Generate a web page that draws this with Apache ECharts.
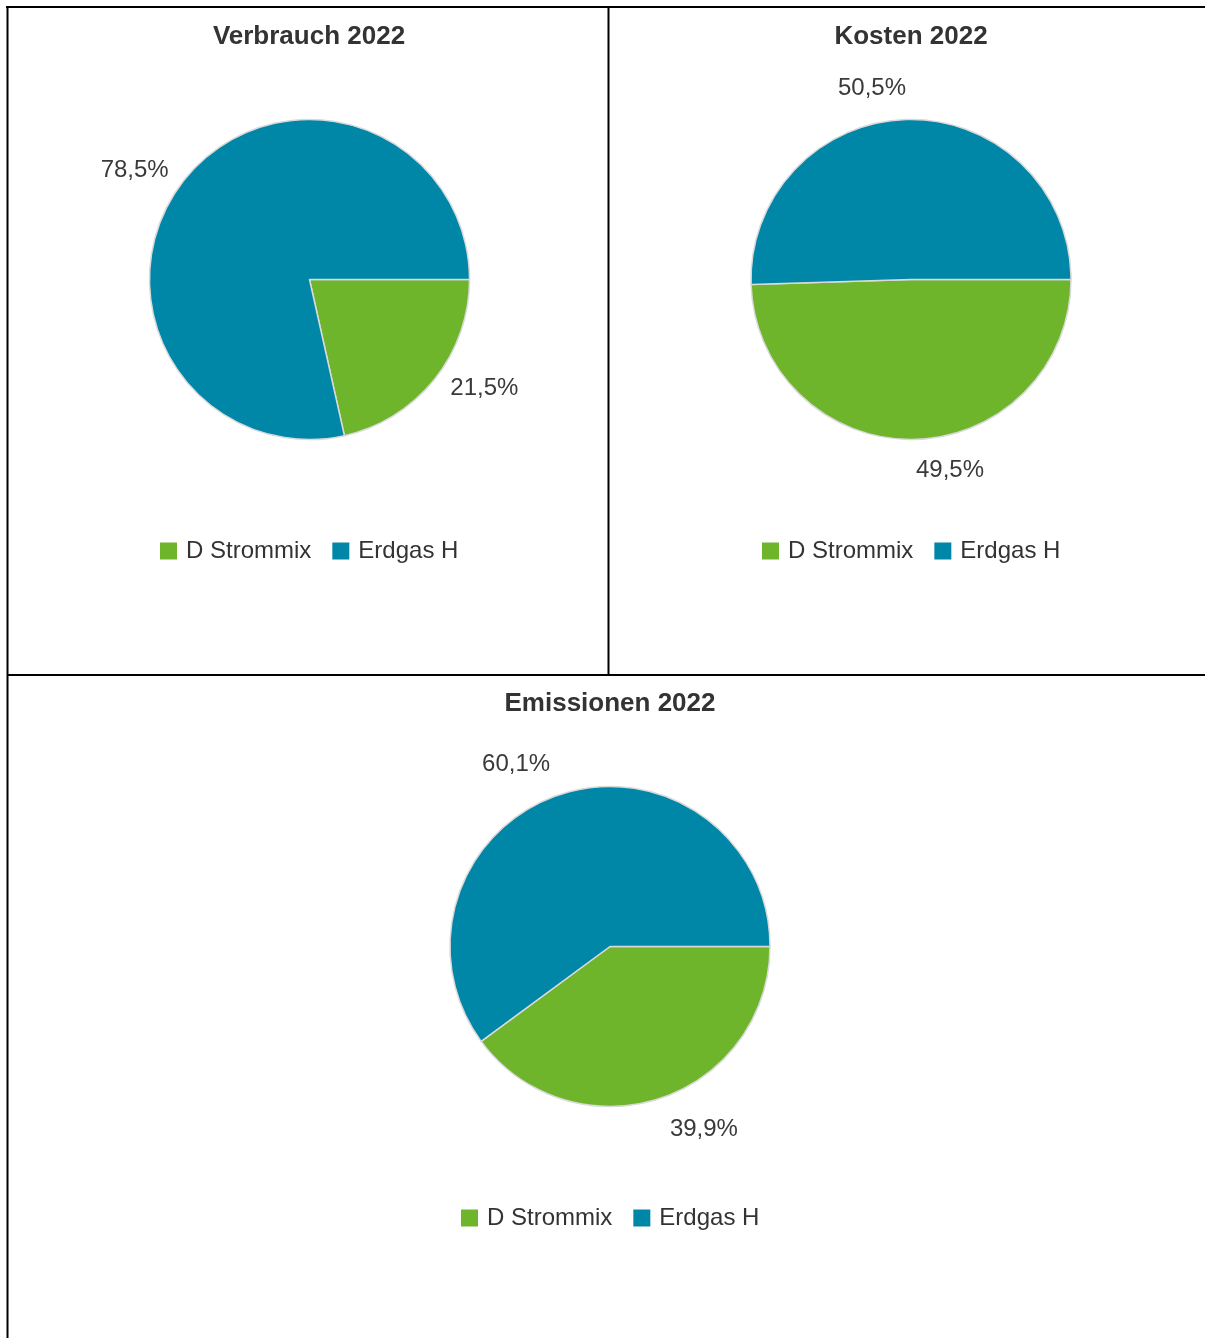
<!DOCTYPE html>
<html>
<head>
<meta charset="utf-8">
<title>Verbrauch, Kosten, Emissionen 2022</title>
<script src="https://cdn.jsdelivr.net/npm/echarts@6/dist/echarts.min.js"></script>
<style>
  html, body { margin: 0; padding: 0; background: #fff; }
  #chart { width: 1205px; height: 1338px; }
</style>
</head>
<body>
<div id="chart"></div>
<script>
// data (percent)
var categories = ['D Strommix', 'Erdgas H']
var chartTitles = ['Verbrauch 2022', 'Kosten 2022', 'Emissionen 2022']
var verbrauchData = [21.5, 78.5]
var kostenData = [49.5, 50.5]
var emissionenData = [39.9, 60.1]

var colors = ['#6fb52c', '#0086a7']
var fontFamily = '"Liberation Sans", Arial, sans-serif'

// layout of the three panels: pie center, label distance, legend start
var panels = [
  { data: verbrauchData, center: [309.5, 279.5], titleX: 304, titleY: 19, legendX: 155, legendY: 534, len: 14, len2: 5 },
  { data: kostenData, center: [911, 279.5], titleX: 906, titleY: 19, legendX: 757, legendY: 534, len: 31, len2: 2 },
  { data: emissionenData, center: [610, 946.5], titleX: 605, titleY: 686, legendX: 456, legendY: 1201, len: 32, len2: 0 }
]

var chart = echarts.init(document.getElementById('chart'))

var titles = []
var legends = []
var series = []
for (var i = 0; i < panels.length; i++) {
  var p = panels[i]
  titles.push({
    text: chartTitles[i],
    left: p.titleX,
    top: p.titleY,
    textAlign: 'center',
    textStyle: { fontFamily: fontFamily, fontSize: 26, fontWeight: 'bold', color: '#333' }
  })
  legends.push({
    data: categories,
    left: p.legendX,
    top: p.legendY,
    orient: 'horizontal',
    icon: 'rect',
    itemWidth: 17,
    itemHeight: 17,
    itemGap: 21,
    selectedMode: false,
    itemStyle: { borderWidth: 0 },
    textStyle: { fontFamily: fontFamily, fontSize: 24, color: '#333', padding: [0, 0, 0, 4] }
  })
  series.push({
    name: chartTitles[i],
    type: 'pie',
    center: p.center,
    radius: 160,
    startAngle: 0,
    clockwise: true,
    avoidLabelOverlap: false,
    animation: false,
    silent: true,
    itemStyle: { borderColor: '#d9d9d9', borderWidth: 1.5 },
    label: {
      show: true,
      position: 'outside',
      distanceToLabelLine: 0,
      fontFamily: fontFamily,
      fontSize: 24,
      color: '#3a3a3a',
      formatter: function (params) {
        return params.value.toFixed(1).replace('.', ',') + '%'
      }
    },
    labelLine: { show: false, length: p.len, length2: p.len2 },
    data: categories.map(function (name, k) {
      return { name: name, value: p.data[k], itemStyle: { color: colors[k] } }
    })
  })
}

chart.setOption({
  color: colors,
  title: titles,
  legend: legends,
  series: series,
  graphic: [
    { type: 'line', shape: { x1: 6, y1: 7, x2: 1205, y2: 7 }, style: { stroke: '#000', lineWidth: 2 } },
    { type: 'line', shape: { x1: 7.5, y1: 6, x2: 7.5, y2: 1338 }, style: { stroke: '#000', lineWidth: 2 } },
    { type: 'line', shape: { x1: 608.5, y1: 7, x2: 608.5, y2: 675 }, style: { stroke: '#000', lineWidth: 2 } },
    { type: 'line', shape: { x1: 7, y1: 675, x2: 1205, y2: 675 }, style: { stroke: '#000', lineWidth: 2 } }
  ]
})
</script>
</body>
</html>
